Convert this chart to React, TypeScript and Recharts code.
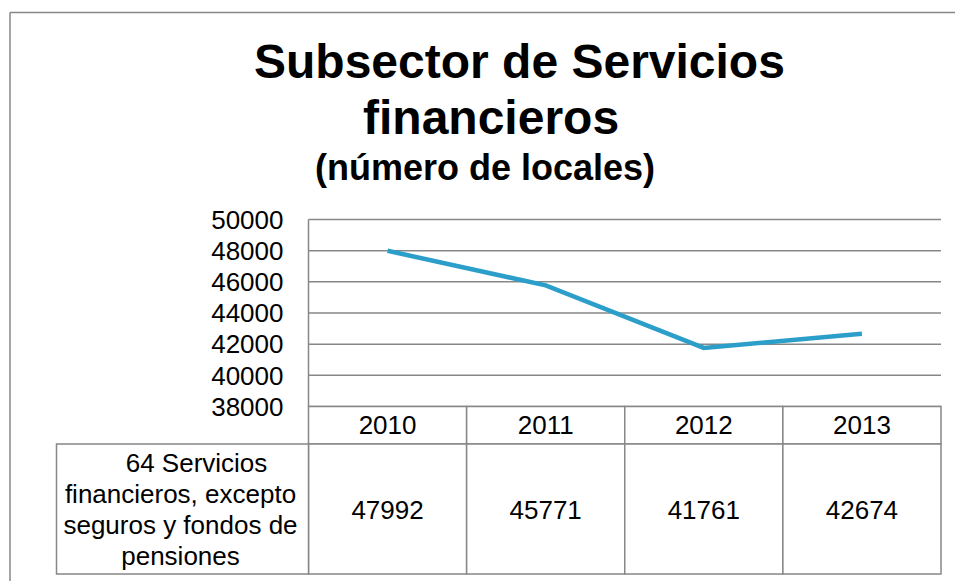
import React from 'react';
import { LineChart, Line, XAxis, YAxis, CartesianGrid } from 'recharts';

const categories = ['2010', '2011', '2012', '2013'];
const values = [47992, 45771, 41761, 42674];
const yTicks = [38000, 40000, 42000, 44000, 46000, 48000, 50000];
const seriesLabel = ['64 Servicios', 'financieros, excepto', 'seguros y fondos de', 'pensiones'];
const titleLines = ['Subsector de Servicios', 'financieros', '(número de locales)'];

const data = categories.map((year, i) => ({ year, value: values[i] }));

const W = 955;
const H = 581;
const MARGIN = { top: 219.5, right: 14, bottom: 0, left: 0 };
const Y_AXIS_W = 308.5;
const X_AXIS_H = H - 406.5;
const BAND = (W - MARGIN.right - Y_AXIS_W) / categories.length;
const HEADER_H = 37.5;
const BODY_H = 130;
const LABEL_W = 252;

const FONT = '"Liberation Sans", Arial, sans-serif';
const GRID = '#878787';
const LINE = '#2B9FCA';

const TableTick = (props: { x?: number; y?: number; payload?: { value: string; index: number } }) => {
  const { x = 0, y = 0, payload } = props;
  const i = categories.indexOf(payload?.value ?? '');
  const left = x - BAND / 2;
  return (
    <g>
      <rect x={left} y={y} width={BAND} height={HEADER_H} fill="#fff" stroke={GRID} strokeWidth={1.5} />
      <rect x={left} y={y + HEADER_H} width={BAND} height={BODY_H} fill="#fff" stroke={GRID} strokeWidth={1.5} />
      <text x={x} y={y + HEADER_H / 2 + 9} textAnchor="middle" fontSize={26} fontFamily={FONT} fill="#000">
        {payload?.value}
      </text>
      <text x={x} y={y + HEADER_H + BODY_H / 2 + 9.5} textAnchor="middle" fontSize={26} fontFamily={FONT} fill="#000">
        {values[i]}
      </text>
      {i === 0 && (
        <g>
          <rect x={left - LABEL_W} y={y + HEADER_H} width={LABEL_W} height={BODY_H} fill="#fff" stroke={GRID} strokeWidth={1.5} />
          {seriesLabel.map((line, k) => (
            <text
              key={line}
              x={left - LABEL_W / 2 + (k === 0 ? 14 : -2)}
              y={y + HEADER_H + BODY_H / 2 + (k - 1.5) * 31 + 9}
              textAnchor="middle"
              fontSize={26}
              fontFamily={FONT}
              fill="#000"
            >
              {line}
            </text>
          ))}
        </g>
      )}
    </g>
  );
};

export default function App() {
  return (
    <div style={{ position: 'fixed', left: 0, top: 0, width: W, height: H, background: '#fff', overflow: 'hidden' }}>
      <LineChart width={W} height={H} data={data} margin={MARGIN}>
        <CartesianGrid vertical={false} stroke={GRID} strokeWidth={1.5} />
        <XAxis
          dataKey="year"
          height={X_AXIS_H}
          padding={{ left: BAND / 2, right: BAND / 2 }}
          axisLine={false}
          tickLine={false}
          tickSize={0}
          tickMargin={0}
          interval={0}
          tick={<TableTick />}
        />
        <YAxis
          width={Y_AXIS_W}
          domain={[38000, 50000]}
          ticks={yTicks}
          interval={0}
          axisLine={{ stroke: GRID, strokeWidth: 1.5 }}
          tickLine={false}
          tickSize={0}
          tickMargin={25}
          tick={{ fontSize: 26, fontFamily: FONT, fill: '#000' }}
        />
        <Line
          type="linear"
          dataKey="value"
          stroke={LINE}
          strokeWidth={4.5}
          dot={false}
          activeDot={false}
          isAnimationActive={false}
        />
      </LineChart>
      <svg width={W} height={H} style={{ position: 'absolute', left: 0, top: 0, pointerEvents: 'none' }}>
        <line x1={10} y1={12.5} x2={W} y2={12.5} stroke={GRID} strokeWidth={1.5} />
        <line x1={10} y1={12.5} x2={10} y2={H} stroke={GRID} strokeWidth={1.5} />
        <text x={254} y={78} fontSize={48} fontWeight="bold" fontFamily={FONT} fill="#000">
          {titleLines[0]}
        </text>
        <text x={363} y={134} fontSize={48} fontWeight="bold" fontFamily={FONT} fill="#000">
          {titleLines[1]}
        </text>
        <text x={315} y={180} fontSize={36} fontWeight="bold" fontFamily={FONT} fill="#000">
          {titleLines[2]}
        </text>
      </svg>
    </div>
  );
}
